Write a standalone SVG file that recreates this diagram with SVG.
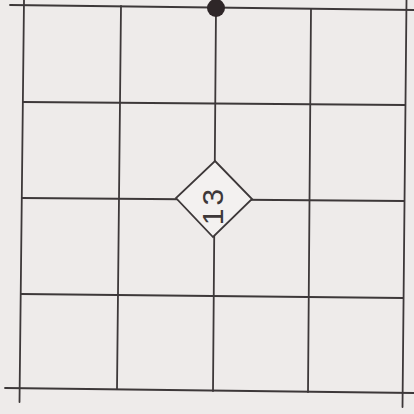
<svg xmlns="http://www.w3.org/2000/svg" width="414" height="414" viewBox="0 0 414 414">
<style>
.ln{stroke:#3d3839;stroke-width:1.8;fill:none;stroke-linecap:round}
.dia{fill:#f3f1f0;stroke:#3d3839;stroke-width:1.8}
.lbl{font-family:"Liberation Sans",Arial,sans-serif;font-size:30px;fill:#3d3839;letter-spacing:3px}
</style>
<rect width="414" height="414" fill="#eeebea"/>
<g id="connectors">
<line class="ln" x1="10" y1="5" x2="414" y2="10"/>
<line class="ln" x1="23" y1="102" x2="405" y2="105"/>
<line class="ln" x1="22" y1="198" x2="404" y2="201"/>
<line class="ln" x1="21" y1="294" x2="403" y2="298"/>
<line class="ln" x1="5" y1="388" x2="414" y2="393"/>
<line class="ln" x1="24" y1="0" x2="19.5" y2="402"/>
<line class="ln" x1="121" y1="6" x2="117" y2="389"/>
<line class="ln" x1="216" y1="8" x2="213" y2="391"/>
<line class="ln" x1="311" y1="9" x2="308" y2="392"/>
<line class="ln" x1="406.5" y1="0" x2="402.5" y2="407"/>
</g>
<g id="node-dot">
<circle cx="216" cy="8" r="9" fill="#2e2628"/>
</g>
<g id="node-13">
<polygon class="dia" points="215,161 252,199 213,237 176,198"/>
<text class="lbl" x="212" y="205.5" text-anchor="middle" dominant-baseline="central" transform="rotate(-90 212 205.5)">13</text>
</g>
</svg>
